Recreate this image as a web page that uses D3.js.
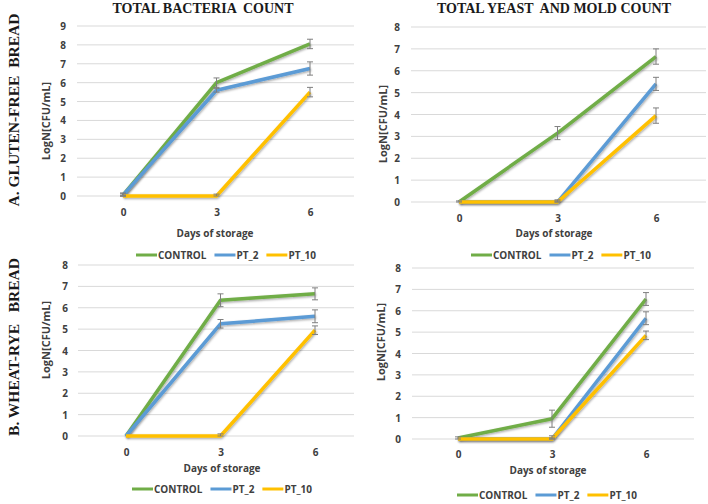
<!DOCTYPE html>
<html>
<head>
<meta charset="utf-8">
<script src="https://cdn.jsdelivr.net/npm/d3@7"></script>
<style>
  html, body { margin: 0; padding: 0; background: #fff; }
  svg { display: block; }
  text { white-space: pre; }
</style>
</head>
<body>
<svg id="chart" width="708" height="504"></svg>
<script>
// ---------- DATA ----------
const days = ["0", "3", "6"];
const seriesNames = ["CONTROL", "PT_2", "PT_10"];
const seriesColors = ["#70ad47", "#5b9bd5", "#ffc000"];
const panelTitles = ["TOTAL BACTERIA  COUNT", "TOTAL YEAST  AND MOLD COUNT"];
const rowLabels = ["A. GLUTEN-FREE  BREAD", "B. WHEAT-RYE   BREAD"];
const yAxisTitle = "LogN[CFU/mL]";
const xAxisTitle = "Days of storage";

// Gluten-free bread, total bacteria count
const gfBacControl = [0.05, 6.0, 8.05];
const gfBacPT2     = [0.05, 5.6, 6.75];
const gfBacPT10    = [0.0, 0.0, 5.5];
const gfBacControlErr = [0.1, 0.25, 0.25];
const gfBacPT2Err     = [0.1, 0.1, 0.35];
const gfBacPT10Err    = [0.05, 0.1, 0.25];
const gfBacTicks = [0, 1, 2, 3, 4, 5, 6, 7, 8, 9];

// Gluten-free bread, total yeast and mold count
const gfYmControl = [0.0, 3.15, 6.65];
const gfYmPT2     = [0.0, 0.0, 5.4];
const gfYmPT10    = [0.0, 0.0, 3.95];
const gfYmControlErr = [0.05, 0.3, 0.35];
const gfYmPT2Err     = [0.0, 0.1, 0.3];
const gfYmPT10Err    = [0.0, 0.05, 0.35];
const gfYmTicks = [0, 1, 2, 3, 4, 5, 6, 7, 8];

// Wheat-rye bread, total bacteria count
const wrBacControl = [0.0, 6.35, 6.65];
const wrBacPT2     = [0.0, 5.25, 5.6];
const wrBacPT10    = [0.0, 0.0, 4.95];
const wrBacControlErr = [0.0, 0.3, 0.28];
const wrBacPT2Err     = [0.0, 0.2, 0.3];
const wrBacPT10Err    = [0.0, 0.1, 0.2];
const wrBacTicks = [0, 1, 2, 3, 4, 5, 6, 7, 8];

// Wheat-rye bread, total yeast and mold count
const wrYmControl = [0.05, 0.95, 6.55];
const wrYmPT2     = [0.0, 0.0, 5.65];
const wrYmPT10    = [0.0, 0.0, 4.85];
const wrYmControlErr = [0.05, 0.4, 0.3];
const wrYmPT2Err     = [0.0, 0.15, 0.3];
const wrYmPT10Err    = [0.0, 0.05, 0.2];
const wrYmTicks = [0, 1, 2, 3, 4, 5, 6, 7, 8];

// ---------- LAYOUT ----------
const panels = [
  { values: [gfBacControl, gfBacPT2, gfBacPT10], errs: [gfBacControlErr, gfBacPT2Err, gfBacPT10Err], ticks: gfBacTicks,
    gx0: 77, gx1: 354, cx0: 123, cx1: 310, y0: 196, y1: 26, tickX: 66, xTickY: 212, xTitleX: 215, xTitleY: 233,
    yTitleX: 50, yTitleY: 121, title: panelTitles[0], titleX: 203, legX: 136, legY: 255 },
  { values: [gfYmControl, gfYmPT2, gfYmPT10], errs: [gfYmControlErr, gfYmPT2Err, gfYmPT10Err], ticks: gfYmTicks,
    gx0: 411, gx1: 706, cx0: 459, cx1: 656, y0: 202, y1: 27, tickX: 400, xTickY: 218, xTitleX: 554, xTitleY: 233,
    yTitleX: 387, yTitleY: 124, title: panelTitles[1], titleX: 554, legX: 471, legY: 255 },
  { values: [wrBacControl, wrBacPT2, wrBacPT10], errs: [wrBacControlErr, wrBacPT2Err, wrBacPT10Err], ticks: wrBacTicks,
    gx0: 78, gx1: 354, cx0: 126, cx1: 315, y0: 436, y1: 265, tickX: 68, xTickY: 452, xTitleX: 222, xTitleY: 468,
    yTitleX: 50, yTitleY: 340, legX: 132, legY: 489 },
  { values: [wrYmControl, wrYmPT2, wrYmPT10], errs: [wrYmControlErr, wrYmPT2Err, wrYmPT10Err], ticks: wrYmTicks,
    gx0: 412, gx1: 694, cx0: 458, cx1: 646, y0: 439, y1: 268, tickX: 401, xTickY: 454, xTitleX: 548, xTitleY: 470,
    yTitleX: 385, yTitleY: 342, legX: 457, legY: 495 }
];

const svg = d3.select("#chart");
const sansFont = "'Open Sans', 'Liberation Sans', sans-serif";
const serifFont = "'Liberation Serif', 'DejaVu Serif', serif";

const defs = svg.append("defs");
const f = defs.append("filter").attr("id", "shadow").attr("x", "-10%").attr("y", "-10%").attr("width", "120%").attr("height", "130%");
f.append("feDropShadow").attr("dx", 0.8).attr("dy", 1.2).attr("stdDeviation", 0.8).attr("flood-color", "#000").attr("flood-opacity", 0.35);

panels.forEach(p => {
  const g = svg.append("g");
  const x = d3.scalePoint().domain(days).range([p.cx0, p.cx1]);
  const yMax = d3.max(p.ticks);
  const y = d3.scaleLinear().domain([0, yMax]).range([p.y0, p.y1]);

  // gridlines
  g.append("g").selectAll("line").data(p.ticks).join("line")
    .attr("x1", p.gx0).attr("x2", p.gx1)
    .attr("y1", d => y(d)).attr("y2", d => y(d))
    .attr("stroke", "#d9d9d9").attr("stroke-width", 1);

  // y tick labels
  const yAxis = d3.axisLeft(y).tickValues(p.ticks).tickSize(0).tickPadding(0).tickFormat(d3.format("d"));
  const ya = g.append("g").attr("transform", `translate(${p.tickX},0)`).call(yAxis);
  ya.select(".domain").remove();
  ya.selectAll("text").attr("font-family", sansFont).attr("font-weight", "bold")
    .attr("font-size", 10).attr("fill", "#404040").attr("dy", "0.35em").attr("x", 0);

  // x tick labels
  const xAxis = d3.axisBottom(x).tickSize(0).tickPadding(0);
  const xa = g.append("g").attr("transform", `translate(0,${p.xTickY})`).call(xAxis);
  xa.select(".domain").remove();
  xa.selectAll("text").attr("font-family", sansFont).attr("font-weight", "bold")
    .attr("font-size", 10).attr("fill", "#404040").attr("dy", "0.35em").attr("y", 0);

  // axis titles
  g.append("text").attr("x", p.xTitleX).attr("y", p.xTitleY).attr("dy", "0.35em")
    .attr("text-anchor", "middle").attr("font-family", sansFont).attr("font-weight", "bold")
    .attr("font-size", 10).attr("fill", "#404040").text(xAxisTitle);
  g.append("text").attr("transform", `translate(${p.yTitleX},${p.yTitleY}) rotate(-90)`)
    .attr("text-anchor", "middle").attr("font-family", sansFont).attr("font-weight", "bold")
    .attr("font-size", 11).attr("fill", "#404040").text(yAxisTitle);

  // title
  if (p.title) {
    g.append("text").attr("x", p.titleX).attr("y", 13).attr("text-anchor", "middle")
      .attr("font-family", serifFont).attr("font-weight", "bold").attr("font-size", 14)
      .attr("fill", "#1a1a1a").text(p.title);
  }

  // lines
  const line = d3.line().x((d, i) => x(days[i])).y(d => y(d));
  p.values.forEach((vals, si) => {
    g.append("path").datum(vals).attr("d", line).attr("fill", "none")
      .attr("stroke", seriesColors[si]).attr("stroke-width", 3.5)
      .attr("stroke-linejoin", "round").attr("filter", "url(#shadow)");
  });
  // error bars
  p.values.forEach((vals, si) => {
    const errs = p.errs[si];
    const eg = g.append("g").attr("stroke", "#7f7f7f").attr("stroke-width", 1);
    vals.forEach((v, i) => {
      const e = errs[i];
      if (!e) return;
      const cx = x(days[i]);
      const lo = y(Math.max(0, v - e)), hi = y(v + e);
      eg.append("line").attr("x1", cx).attr("x2", cx).attr("y1", lo).attr("y2", hi);
      eg.append("line").attr("x1", cx - 3).attr("x2", cx + 3).attr("y1", lo).attr("y2", lo);
      eg.append("line").attr("x1", cx - 3).attr("x2", cx + 3).attr("y1", hi).attr("y2", hi);
    });
  });

  // legend
  let lx = p.legX;
  const lg = g.append("g");
  seriesNames.forEach((name, si) => {
    lg.append("line").attr("x1", lx).attr("x2", lx + 21).attr("y1", p.legY).attr("y2", p.legY)
      .attr("stroke", seriesColors[si]).attr("stroke-width", 3);
    const t = lg.append("text").attr("x", lx + 22).attr("y", p.legY).attr("dy", "0.35em")
      .attr("font-family", sansFont).attr("font-weight", "bold").attr("font-size", 10)
      .attr("fill", "#404040").text(name);
    lx += 22 + t.node().getComputedTextLength() + 8;
  });
});

// row labels
const rowPos = [[19, 110], [19, 347]];
rowLabels.forEach((lab, i) => {
  svg.append("text").attr("transform", `translate(${rowPos[i][0]},${rowPos[i][1]}) rotate(-90)`)
    .attr("text-anchor", "middle").attr("font-family", serifFont).attr("font-weight", "bold")
    .attr("font-size", 15.5).attr("fill", "#1a1a1a").text(lab);
});
</script>
</body>
</html>
